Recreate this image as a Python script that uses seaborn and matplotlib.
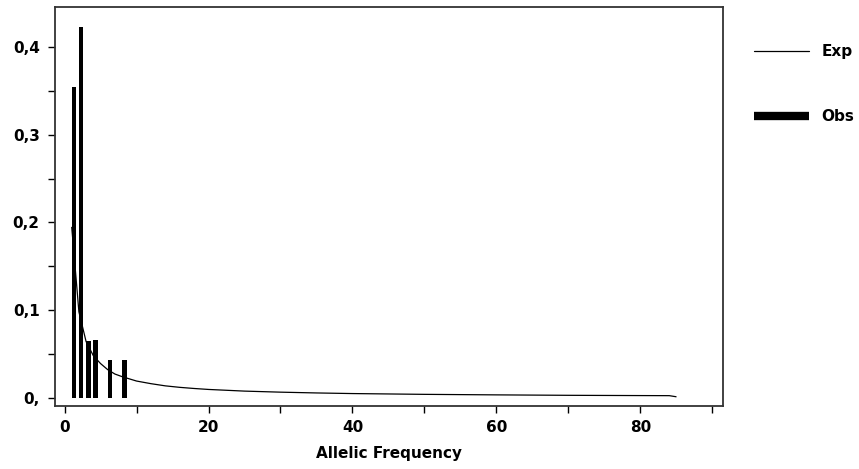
import matplotlib
matplotlib.use('Agg')
import matplotlib.pyplot as plt
from matplotlib.lines import Line2D
import seaborn as sns
import pandas as pd

# Observed allelic frequency spectrum (bars)
obs_x = [1, 2, 3, 4, 6, 8]
obs_freq = [0.355, 0.423, 0.065, 0.066, 0.043, 0.043]

# Expected spectrum (thin line)
exp_x = [1, 2, 3, 4, 5, 6, 7, 8, 10, 12, 14, 16, 18, 20, 25, 30, 35, 40,
         50, 60, 70, 80, 84, 85]
exp_freq = [0.195, 0.098, 0.064, 0.048, 0.039, 0.032, 0.027, 0.024, 0.019,
            0.016, 0.0135, 0.0118, 0.0105, 0.0094, 0.0075, 0.0063, 0.0054,
            0.0047, 0.0038, 0.0032, 0.0027, 0.0024, 0.0023, 0.001]

y_ticks = [0.0, 0.1, 0.2, 0.3, 0.4]
y_ticklabels = ['0,', '0,1', '0,2', '0,3', '0,4']
x_ticks = [0, 20, 40, 60, 80]

sns.set_style('white')
plt.rcParams['font.family'] = ['DejaVu Sans']
plt.rcParams['font.weight'] = 'bold'
plt.rcParams['text.color'] = 'black'
plt.rcParams['axes.labelcolor'] = 'black'
plt.rcParams['xtick.color'] = 'black'
plt.rcParams['ytick.color'] = 'black'

fig = plt.figure(figsize=(8.59, 4.69), dpi=100)
ax = fig.add_axes([55 / 859, 1 - 406 / 469, (723 - 55) / 859, (406 - 7) / 469])

exp_df = pd.DataFrame({'x': exp_x, 'freq': exp_freq})
sns.lineplot(data=exp_df, x='x', y='freq', ax=ax, color='black', linewidth=0.9,
             label='Exp', zorder=2, solid_capstyle='butt')
ax.bar(obs_x, obs_freq, width=0.62, align='edge', color='black', linewidth=0, zorder=3)

ax.set_xlim(-1.32, 91.46)
ax.set_ylim(-0.0095, 0.446)
ax.set_xticks(x_ticks)
ax.set_xticks([10, 30, 50, 70, 90], minor=True)
ax.set_yticks(y_ticks)
ax.set_yticklabels(y_ticklabels)
ax.set_yticks([0.05, 0.15, 0.25, 0.35], minor=True)
ax.tick_params(axis='both', which='both', direction='out', length=5, width=1,
               color='black', labelsize=11, bottom=True, left=True)
ax.tick_params(axis='y', pad=6)
ax.tick_params(axis='x', pad=5)
for lab in ax.get_xticklabels() + ax.get_yticklabels():
    lab.set_fontweight('bold')
for sp in ax.spines.values():
    sp.set_color('#333333')
    sp.set_linewidth(1.3)

ax.set_xlabel('Allelic Frequency', fontsize=11, fontweight='bold', labelpad=8, color='black')
ax.set_ylabel('')

handles = [Line2D([], [], color='black', linewidth=0.9),
           Line2D([], [], color='black', linewidth=6, solid_capstyle='butt')]
ax.legend_.remove()
fig.legend(handles, ['Exp', 'Obs'], loc='upper left', bbox_to_anchor=(754 / 859, 1 - 44 / 469),
           frameon=False, borderpad=0, borderaxespad=0, handlelength=3.6,
           handletextpad=0.8, labelspacing=3.3, prop={'size': 11, 'weight': 'bold'})

fig.savefig('out.png', dpi=100)
